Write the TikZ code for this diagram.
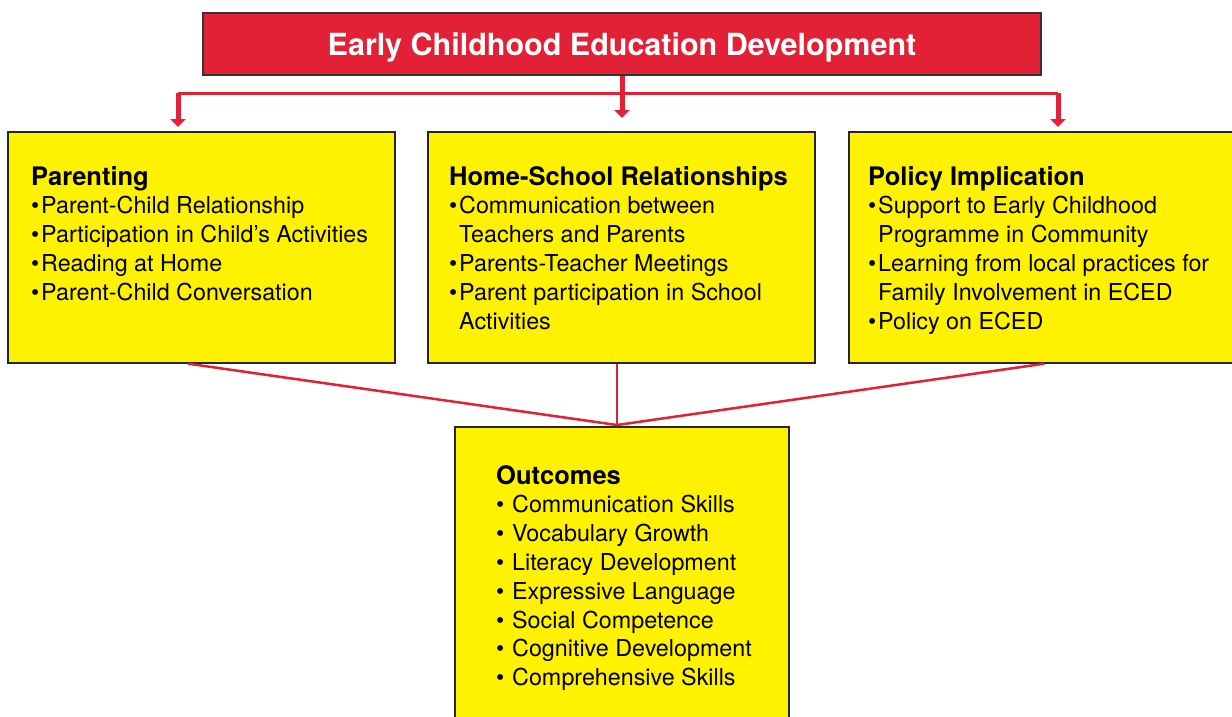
\documentclass[tikz,border=0pt]{standalone}
\usepackage{fontspec}
\setmainfont{TeX Gyre Heros}
\usetikzlibrary{arrows.meta}
\definecolor{ecred}{RGB}{226,32,54}
\definecolor{ecyellow}{RGB}{255,242,0}
\begin{document}
\begin{tikzpicture}[x=1pt,y=-1pt,
  box/.style={draw=black!85, line width=1.3pt, fill=ecyellow, rectangle, inner sep=0pt},
  titlebox/.style={draw=black!80, line width=1.3pt, fill=ecred, rectangle, inner sep=0pt},
  titletext/.style={inner sep=0pt, text=white, text height=20pt, text depth=0pt,
    font=\fontsize{30.5}{36}\selectfont\bfseries},
  busline/.style={draw=ecred, line width=3pt},
  downarrow/.style={draw=ecred, line width=5pt, -{Triangle[width=15pt,length=8pt]}},
  link/.style={draw=ecred, line width=2.5pt},
  heading/.style={anchor=base west, inner sep=0pt, font=\fontsize{25.5}{29}\selectfont\bfseries},
  item/.style={anchor=base west, inner sep=0pt, font=\fontsize{23.3}{29}\selectfont},
  bul/.style={anchor=base west, inner sep=0pt, font=\fontsize{23.3}{29}\selectfont}]
\clip (0,0) rectangle (1232,716);
\fill[white] (0,0) rectangle (1232,716);

% boxes
\node[titlebox, minimum width=838pt, minimum height=62pt] (title) at (622,44) {};
\node[titletext] (titleT) at (622,45.5) {Early Childhood Education Development};
\node[box, minimum width=387pt, minimum height=231pt] (par) at (201.5,247.5) {};
\node[box, minimum width=387pt, minimum height=231pt] (hs) at (621.5,247.5) {};
\node[box, minimum width=391pt, minimum height=231pt] (pol) at (1044.5,247.5) {};
\node[box, minimum width=334pt, minimum height=303pt] (out) at (622,578.5) {};

% top connectors
\coordinate (busL) at (178,93);
\coordinate (busR) at (1058,93);
\coordinate (tipL) at (178,127);
\coordinate (tipR) at (1058,127);
\coordinate (tipC) at (622,118);
\draw[busline] (busL) -- (busR);
\draw[downarrow] (busL) -- (tipL);
\draw[downarrow] (busR) -- (tipR);
\draw[downarrow] (title.south) -- (tipC);

% bottom connectors
\coordinate (join) at (617,425);
\draw[link] ([xshift=-13.5pt]par.south) -- (join);
\draw[link] ([xshift=-4.5pt]hs.south) -- (join);
\draw[link] (pol.south) -- (join);

% Parenting text
\node[heading] (parH) at (31,185) {Parenting};
\foreach \t [count=\i] in {Parent-Child Relationship, Participation in Child’s Activities, Reading at Home, Parent-Child Conversation} {
  \node[bul] (parB\i) at (31,{185+28.8*\i}) {\textbullet};
  \node[item] (parI\i) at (41,{185+28.8*\i}) {\t};
}

% Home-School text
\node[heading] (hsH) at (449,185) {Home-School Relationships};
\foreach \b/\t [count=\i] in {1/Communication between, 0/Teachers and Parents, 1/Parents-Teacher Meetings, 1/Parent participation in School, 0/Activities} {
  \ifnum\b=1 \node[bul] (hsB\i) at (449,{185+28.8*\i}) {\textbullet};\fi
  \node[item] (hsI\i) at (459,{185+28.8*\i}) {\t};
}

% Policy text
\node[heading] (polH) at (868,185) {Policy Implication};
\foreach \b/\t [count=\i] in {1/Support to Early Childhood, 0/Programme in Community, 1/Learning from local practices for, 0/Family Involvement in ECED, 1/Policy on ECED} {
  \ifnum\b=1 \node[bul] (polB\i) at (868,{185+28.8*\i}) {\textbullet};\fi
  \node[item] (polI\i) at (878,{185+28.8*\i}) {\t};
}

% Outcomes text
\node[heading] (outH) at (496,484) {Outcomes};
\foreach \t [count=\i] in {Communication Skills, Vocabulary Growth, Literacy Development, Expressive Language, Social Competence, Cognitive Development, Comprehensive Skills} {
  \node[bul] (outB\i) at (496,{484+28.8*\i}) {\textbullet};
  \node[item] (outI\i) at (512,{484+28.8*\i}) {\t};
}
\end{tikzpicture}
\end{document}
